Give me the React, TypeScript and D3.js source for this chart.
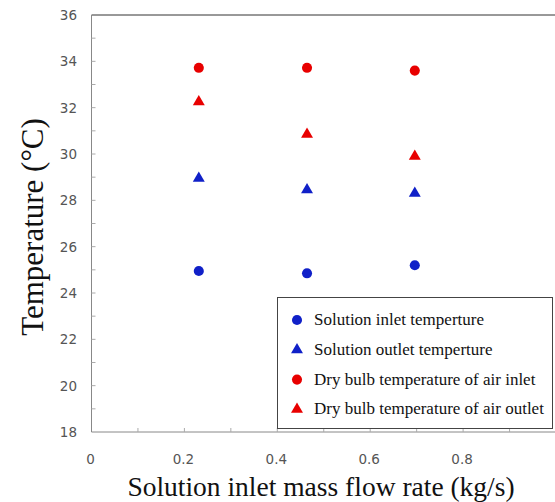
import { useEffect, useRef } from 'react';
import * as d3 from 'd3';

// flow rates (kg/s)
const flowRates = [0.231, 0.464, 0.696];
const solutionInlet = [24.95, 24.85, 25.2];
const solutionOutlet = [28.95, 28.45, 28.3];
const airInlet = [33.72, 33.72, 33.6];
const airOutlet = [32.25, 30.85, 29.9];

const xTicks = [0, 0.2, 0.4, 0.6, 0.8];
const yTicks = [18, 20, 22, 24, 26, 28, 30, 32, 34, 36];

const seriesNames = [
  'Solution inlet temperture',
  'Solution outlet temperture',
  'Dry bulb temperature of air inlet',
  'Dry bulb temperature of air outlet',
];

const App = () => {
  const ref = useRef<SVGSVGElement>(null);

  useEffect(() => {
    const svg = d3.select(ref.current);
    svg.selectAll('*').remove();

    const width = 555;
    const height = 502;
    const blue = '#1020c8';
    const red = '#e80000';

    const x = d3.scaleLinear().domain([0, 1]).range([91.5, 556]);
    const y = d3.scaleLinear().domain([18, 36]).range([432, 15]);

    svg.append('rect').attr('width', width).attr('height', height).attr('fill', '#fff');

    // frame lines
    svg.append('line')
      .attr('x1', x(0)).attr('x2', width).attr('y1', y(36)).attr('y2', y(36))
      .attr('stroke', '#333').attr('stroke-width', 1);
    svg.append('line')
      .attr('x1', x(0)).attr('x2', x(0)).attr('y1', y(36)).attr('y2', y(18))
      .attr('stroke', '#888').attr('stroke-width', 1);
    svg.append('line')
      .attr('x1', x(0)).attr('x2', width).attr('y1', y(18)).attr('y2', y(18))
      .attr('stroke', '#888').attr('stroke-width', 1);

    // inner ticks
    svg.append('g').selectAll('line')
      .data(d3.range(19, 36))
      .enter().append('line')
      .attr('x1', x(0)).attr('x2', x(0) + 4)
      .attr('y1', d => y(d)).attr('y2', d => y(d))
      .attr('stroke', '#aaa');
    svg.append('g').selectAll('line')
      .data(d3.range(1, 10).map(d => d / 10))
      .enter().append('line')
      .attr('x1', d => x(d)).attr('x2', d => x(d))
      .attr('y1', y(18)).attr('y2', y(18) - 4)
      .attr('stroke', '#aaa');

    // tick labels
    svg.append('g').selectAll('text')
      .data(yTicks)
      .enter().append('text')
      .attr('x', 77).attr('y', d => y(d) + 5)
      .attr('text-anchor', 'end')
      .attr('font-family', 'DejaVu Sans, sans-serif')
      .attr('font-size', 13.5)
      .attr('fill', '#555')
      .text(d => d);
    svg.append('g').selectAll('text')
      .data(xTicks)
      .enter().append('text')
      .attr('x', d => x(d) - 1).attr('y', 464)
      .attr('text-anchor', 'middle')
      .attr('font-family', 'DejaVu Sans, sans-serif')
      .attr('font-size', 13.5)
      .attr('fill', '#555')
      .text(d => d);

    // axis titles
    svg.append('text')
      .attr('transform', `translate(43,227) rotate(-90)`)
      .attr('text-anchor', 'middle')
      .attr('font-family', 'Liberation Serif, serif')
      .attr('font-size', 31)
      .attr('fill', '#111')
      .text('Temperature (°C)');
    svg.append('text')
      .attr('x', 321).attr('y', 496)
      .attr('text-anchor', 'middle')
      .attr('font-family', 'Liberation Serif, serif')
      .attr('font-size', 27.5)
      .attr('fill', '#111')
      .text('Solution inlet mass flow rate (kg/s)');

    const tri = d3.symbol().type(d3.symbolTriangle).size(62);
    const circ = d3.symbol().type(d3.symbolCircle).size(80);

    const series = [
      { values: solutionInlet, color: blue, shape: circ },
      { values: solutionOutlet, color: blue, shape: tri },
      { values: airInlet, color: red, shape: circ },
      { values: airOutlet, color: red, shape: tri },
    ];

    series.forEach(s => {
      svg.append('g').selectAll('path')
        .data(s.values)
        .enter().append('path')
        .attr('d', s.shape() as string)
        .attr('transform', (d, i) => `translate(${x(flowRates[i])},${y(d)})`)
        .attr('fill', s.color);
    });

    // legend
    const lg = svg.append('g');
    lg.append('rect')
      .attr('x', 277.5).attr('y', 297.5)
      .attr('width', 275).attr('height', 131)
      .attr('fill', '#fff').attr('stroke', '#444').attr('stroke-width', 1);
    series.forEach((s, i) => {
      const cy = 320 + i * 29.8;
      lg.append('path')
        .attr('d', s.shape() as string)
        .attr('transform', `translate(297,${cy})`)
        .attr('fill', s.color);
      lg.append('text')
        .attr('x', 314).attr('y', cy + 5)
        .attr('font-family', 'Liberation Serif, serif')
        .attr('font-size', 17)
        .attr('fill', '#111')
        .text(seriesNames[i]);
    });
  }, []);

  return (
    <svg ref={ref} width={555} height={502}
      style={{ position: 'absolute', left: 0, top: 0 }} />
  );
};

export default App;
